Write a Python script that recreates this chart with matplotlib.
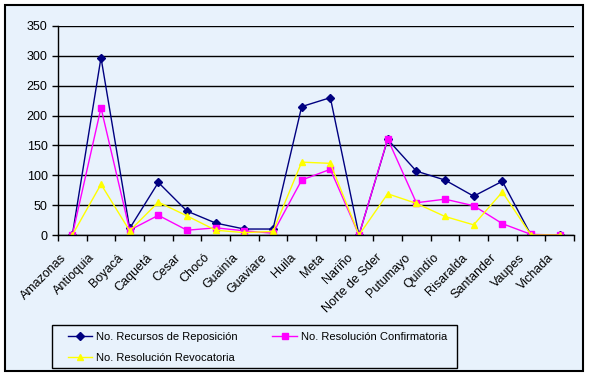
import matplotlib.pyplot as plt
import numpy as np
from matplotlib.patches import Rectangle
from matplotlib.transforms import ScaledTranslation

plt.rcParams['font.family'] = ['Liberation Sans', 'DejaVu Sans']

# Data
departamentos = ['Amazonas', 'Antioquia', 'Boyacá', 'Caquetá', 'Cesar', 'Chocó',
                 'Guainía', 'Guaviare', 'Huila', 'Meta', 'Nariño', 'Norte de Sder',
                 'Putumayo', 'Quindío', 'Risaralda', 'Santander', 'Vaupes', 'Vichada']
reposicion = [0, 297, 11, 88, 40, 20, 10, 10, 215, 230, 0, 160, 107, 92, 65, 90, 0, 0]
confirmatoria = [0, 213, 8, 33, 8, 12, 7, 3, 92, 110, 0, 161, 54, 60, 49, 19, 1, 0]
revocatoria = [0, 85, 7, 55, 32, 8, 4, 6, 122, 120, 0, 69, 53, 31, 17, 72, 0, 0]

bg = '#E8F2FC'
W, H = 589, 376

fig = plt.figure(figsize=(W/100, H/100), dpi=100)
fig.patch.set_facecolor('white')
# outer frame of the chart area
fig.patches.append(Rectangle((5/W, 1-371/H), 578/W, 366/H, transform=fig.transFigure,
                             facecolor=bg, edgecolor='black', linewidth=1.5, zorder=-10))
# legend frame
fig.patches.append(Rectangle((52/W, 1-368/H), 405/W, 43/H, transform=fig.transFigure,
                             facecolor='none', edgecolor='black', linewidth=1, zorder=5))

ax = fig.add_axes([58/W, 1-235/H, 516/W, 209/H])
ax.patch.set_alpha(0)

x = np.arange(len(departamentos))
l1, = ax.plot(x, reposicion, color='#000080', marker='D', markersize=4, linewidth=1,
              label='No. Recursos de Reposición')
l2, = ax.plot(x, confirmatoria, color='#FF00FF', marker='s', markersize=5, linewidth=1,
              label='No. Resolución Confirmatoria')
l3, = ax.plot(x, revocatoria, color='#FFFF00', marker='^', markersize=5, linewidth=1,
              label='No. Resolución Revocatoria')

ax.set_xlim(-0.5, len(departamentos) - 0.5)
ax.set_ylim(0, 350)
ax.set_yticks(np.arange(0, 351, 50))
ax.yaxis.grid(True, color='black', linewidth=1)
ax.set_axisbelow(True)

# category labels at centres, tick marks at boundaries
ax.set_xticks(x)
ax.set_xticklabels(departamentos, rotation=45, ha='right', va='center',
                   rotation_mode='anchor', fontsize=9)
ax.tick_params(axis='x', which='major', length=0, pad=15)
shift = ScaledTranslation(-0.08, 0, fig.dpi_scale_trans)
for lab in ax.get_xticklabels():
    lab.set_transform(lab.get_transform() + shift)
ax.set_xticks(np.arange(-0.5, len(departamentos), 1), minor=True)
ax.tick_params(axis='x', which='minor', length=4, width=1, direction='out')
ax.tick_params(axis='y', length=4, width=1, labelsize=9)

for s in ['top', 'right']:
    ax.spines[s].set_visible(False)
for s in ['left', 'bottom']:
    ax.spines[s].set_linewidth(1)
    ax.spines[s].set_color('black')

leg = fig.legend([l1, l3, l2], [l1.get_label(), l3.get_label(), l2.get_label()],
                 loc='upper left', bbox_to_anchor=(68/W, 1-332/H), ncol=2, fontsize=8,
                 frameon=False, handlelength=2.2, handletextpad=0.35,
                 columnspacing=3.1, labelspacing=0.95, borderpad=0, borderaxespad=0)

fig.savefig('out.png', dpi=100, facecolor=fig.get_facecolor())
